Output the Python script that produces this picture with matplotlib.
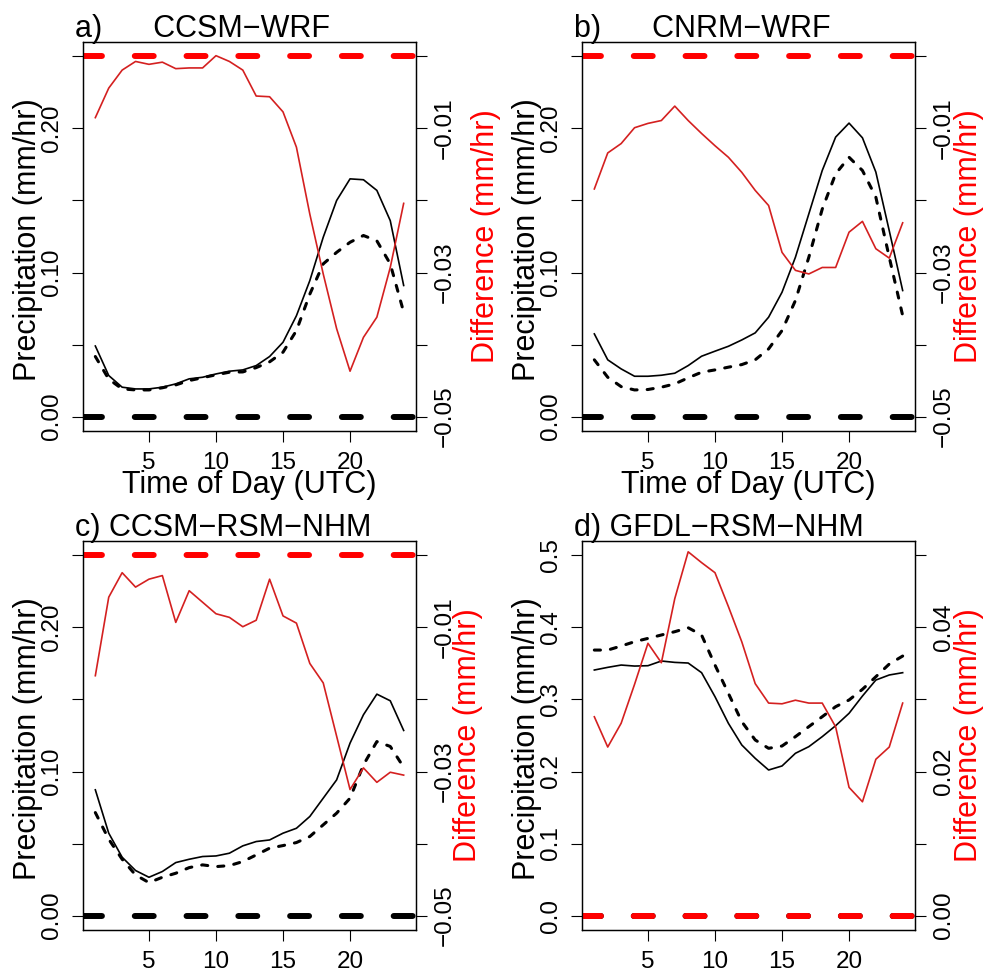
import matplotlib
matplotlib.use("Agg")
import matplotlib.pyplot as plt

plt.rcParams['font.family'] = ['Liberation Sans', 'DejaVu Sans']

hours = list(range(1, 25))

# a) CCSM-WRF
a_solid = [0.049, 0.0285, 0.0204, 0.0192, 0.0192, 0.0204, 0.0227, 0.0262, 0.0273, 0.0296, 0.0315, 0.0324,
           0.0354, 0.0417, 0.0516, 0.070, 0.0944, 0.1245, 0.150, 0.165, 0.1644, 0.157, 0.136, 0.091]
a_dashed = [0.0417, 0.026, 0.0192, 0.0185, 0.0185, 0.020, 0.022, 0.025, 0.027, 0.029, 0.0308, 0.031,
            0.034, 0.038, 0.0447, 0.0597, 0.085, 0.106, 0.114, 0.121, 0.1257, 0.122, 0.106, 0.0725]
a_diff = [-0.0085, -0.0044, -0.0019, -0.0007, -0.0011, -0.0008, -0.0017, -0.0016, -0.0016, 0.0001, -0.0007, -0.0019,
          -0.0055, -0.0056, -0.0077, -0.0126, -0.0219, -0.0302, -0.0378, -0.0437, -0.039, -0.0362, -0.0293, -0.0204]

# b) CNRM-WRF
b_solid = [0.0574, 0.0394, 0.0331, 0.028, 0.028, 0.0287, 0.0301, 0.0354, 0.0419, 0.0454, 0.0488, 0.0532,
           0.0581, 0.069, 0.0863, 0.1106, 0.1407, 0.1708, 0.194, 0.2037, 0.1935, 0.1697, 0.129, 0.0875]
b_dashed = [0.0394, 0.0273, 0.0208, 0.0185, 0.0188, 0.0204, 0.0227, 0.0269, 0.0308, 0.0324, 0.0343, 0.0361,
            0.0394, 0.047, 0.0597, 0.0806, 0.1106, 0.144, 0.1685, 0.180, 0.1708, 0.1523, 0.1106, 0.0701]
b_diff = [-0.0184, -0.0134, -0.0121, -0.0099, -0.0093, -0.0089, -0.0069, -0.0089, -0.0107, -0.0124, -0.014, -0.0161,
          -0.0186, -0.0207, -0.0272, -0.0297, -0.0302, -0.0293, -0.0293, -0.0244, -0.0229, -0.0267, -0.028, -0.0231]

# c) CCSM-RSM-NHM
c_solid = [0.0873, 0.0572, 0.0405, 0.0313, 0.0266, 0.0306, 0.0368, 0.0391, 0.041, 0.0414, 0.0433, 0.0484,
           0.0514, 0.0525, 0.0572, 0.0606, 0.0688, 0.0815, 0.0942, 0.1197, 0.1394, 0.1537, 0.1491, 0.1285]
c_dashed = [0.0715, 0.053, 0.0391, 0.0282, 0.0229, 0.0266, 0.0294, 0.0333, 0.0352, 0.034, 0.0347, 0.0375,
            0.0421, 0.0468, 0.0486, 0.0507, 0.0549, 0.063, 0.0711, 0.0815, 0.1046, 0.1208, 0.1174, 0.103]
c_diff = [-0.0167, -0.0058, -0.0024, -0.0044, -0.0033, -0.0028, -0.0093, -0.0049, -0.0065, -0.0081, -0.0086, -0.0099,
          -0.009, -0.0033, -0.0084, -0.0094, -0.015, -0.0177, -0.0251, -0.0325, -0.0295, -0.0315, -0.0301, -0.0305]

# d) GFDL-RSM-NHM
d_solid = [0.3409, 0.3446, 0.3478, 0.3464, 0.3469, 0.3534, 0.3515, 0.3506, 0.3372, 0.3039, 0.2669, 0.2368,
           0.2183, 0.2021, 0.2077, 0.2253, 0.2345, 0.2484, 0.2636, 0.2808, 0.3048, 0.327, 0.334, 0.3372]
d_dashed = [0.3686, 0.3686, 0.3742, 0.3802, 0.3848, 0.3895, 0.3941, 0.3996, 0.3895, 0.3478, 0.3085, 0.2692,
            0.2438, 0.2322, 0.2354, 0.2484, 0.2623, 0.2761, 0.290, 0.2993, 0.3141, 0.3316, 0.3492, 0.3603]
d_diff = [0.0276, 0.0234, 0.0267, 0.0321, 0.0378, 0.0351, 0.044, 0.0505, 0.049, 0.0476, 0.0429, 0.038,
          0.0322, 0.0295, 0.0294, 0.0299, 0.0295, 0.0295, 0.0262, 0.0178, 0.0158, 0.0217, 0.0234, 0.0295]

x_ticks = [5, 10, 15, 20]
left_ticks_abc = [0.0, 0.05, 0.10, 0.15, 0.20, 0.25]
left_labels_abc = ['0.00', '', '0.10', '', '0.20', '']
right_ticks_abc = [-0.05, -0.04, -0.03, -0.02, -0.01, 0.0]
right_labels_abc = ['\u22120.05', '', '\u22120.03', '', '\u22120.01', '']
left_ticks_d = [0.0, 0.1, 0.2, 0.3, 0.4, 0.5]
left_labels_d = ['0.0', '0.1', '0.2', '0.3', '0.4', '0.5']
right_ticks_d = [0.0, 0.01, 0.02, 0.03, 0.04, 0.05]
right_labels_d = ['0.00', '', '0.02', '', '0.04', '']

W, H = 985, 971
fig = plt.figure(figsize=(W / 100, H / 100), dpi=100)

def fx(px):
    return px / W

def fy(py):
    return 1 - py / H

RED_THIN = '#d42020'
AX_W, AX_H = 333, 389
TICK_FS = 17.5
LAB_FS = 22

# left px, top px, title, data, left ticks/labels, right ticks/labels, red label x, xlabel?
panels = [
    (83, 42, "a)      CCSM\u2212WRF", a_solid, a_dashed, a_diff,
     left_ticks_abc, left_labels_abc, right_ticks_abc, right_labels_abc, 486, True),
    (582, 42, "b)      CNRM\u2212WRF", b_solid, b_dashed, b_diff,
     left_ticks_abc, left_labels_abc, right_ticks_abc, right_labels_abc, 969, True),
    (83, 541, "c) CCSM\u2212RSM\u2212NHM", c_solid, c_dashed, c_diff,
     left_ticks_abc, left_labels_abc, right_ticks_abc, right_labels_abc, 468, False),
    (582, 541, "d) GFDL\u2212RSM\u2212NHM", d_solid, d_dashed, d_diff,
     left_ticks_d, left_labels_d, right_ticks_d, right_labels_d, 969, False),
]

for (left, top, title, solid, dashed, diff, lt, ll, rt, rl, red_x, show_xlab) in panels:
    ax = fig.add_axes([fx(left), fy(top + AX_H), AX_W / W, AX_H / H])
    ax.plot(hours, solid, color='black', lw=1.2)
    ax.plot(hours, dashed, color='black', lw=2.2, dashes=(2.0, 3.3), dash_capstyle='round')
    ax.axhline(0, color='black', lw=4.3, dashes=(3.17, 5.5), dash_capstyle='round')
    ax.set_xlim(0.08, 24.92)
    lspan = lt[-1] - lt[0]
    ax.set_ylim(lt[0] - 0.04 * lspan, lt[-1] + 0.04 * lspan)
    ax.set_xticks(x_ticks, [str(t) for t in x_ticks])
    ax.set_yticks(lt, ll)
    ax.tick_params(axis='x', length=7.9, width=0.8, pad=7.5, labelsize=TICK_FS)
    ax.tick_params(axis='y', length=7.9, width=0.8, pad=6.5, labelsize=TICK_FS, labelrotation=90)
    for lbl in ax.get_yticklabels():
        lbl.set_va('center')
    for sp in ax.spines.values():
        sp.set_linewidth(0.9)

    ax2 = ax.twinx()
    ax2.plot(hours, diff, color=RED_THIN, lw=1.2)
    ax2.axhline(0, color='red', lw=4.3, dashes=(3.17, 5.5), dash_capstyle='round')
    rspan = rt[-1] - rt[0]
    ax2.set_ylim(rt[0] - 0.04 * rspan, rt[-1] + 0.04 * rspan)
    ax2.set_yticks(rt, rl)
    ax2.tick_params(axis='y', length=7.9, width=0.8, pad=5, labelsize=TICK_FS, labelrotation=90)
    for lbl in ax2.get_yticklabels():
        lbl.set_va('center')
    for sp in ax2.spines.values():
        sp.set_linewidth(0.9)

    mid_y = top + AX_H / 2
    fig.text(fx(left - 55), fy(mid_y + 3), 'Precipitation (mm/hr)', rotation=90,
             ha='center', va='center', fontsize=LAB_FS)
    fig.text(fx(red_x), fy(mid_y), 'Difference (mm/hr)', rotation=90,
             ha='center', va='center', fontsize=LAB_FS, color='red')
    fig.text(fx(left - 8), fy(top - 5), title, ha='left', va='baseline', fontsize=LAB_FS)
    if show_xlab:
        fig.text(fx(left + AX_W / 2), fy(top + AX_H + 62), 'Time of Day (UTC)',
                 ha='center', va='baseline', fontsize=LAB_FS)

fig.savefig('out.png', dpi=100)
